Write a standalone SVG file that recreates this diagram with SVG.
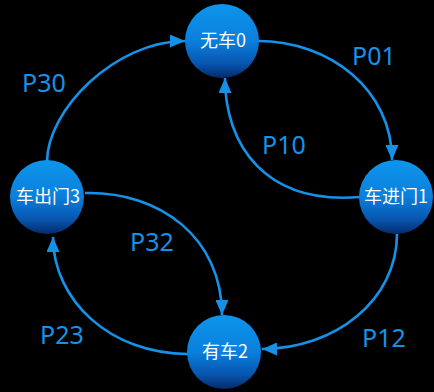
<svg xmlns="http://www.w3.org/2000/svg" width="434" height="392" viewBox="0 0 434 392">
  <defs>
    <linearGradient id="ball" x1="0" y1="0" x2="0" y2="1">
      <stop offset="0" stop-color="#0e95ec"/>
      <stop offset="0.5" stop-color="#0a7fdc"/>
      <stop offset="0.8" stop-color="#0856b0"/>
      <stop offset="1" stop-color="#052a6c"/>
    </linearGradient>
    <marker id="arrow" markerUnits="userSpaceOnUse" markerWidth="15" markerHeight="13" refX="15" refY="6.5" orient="auto">
      <path d="M0,0 L15,6.5 L0,13 z" fill="#1592e8"/>
    </marker>
    <style>
      rect.bg { fill: #000000; }
      circle.state { fill: url(#ball); }
      text.name { font-family: "Noto Sans CJK SC", "Noto Sans", sans-serif; font-size: 18px; fill: #ffffff; text-anchor: middle; }
      .edge { fill: none; stroke: #1592e8; stroke-width: 2.6; marker-end: url(#arrow); }
      text.label { font-family: "Noto Sans", "Open Sans", sans-serif; font-size: 25px; fill: #1592e8; }
    </style>
  </defs>

  <rect class="bg" x="0" y="0" width="434" height="392"/>

  <!-- transitions between states -->
  <g id="connectors">
    <path class="edge" d="M258,41 C330,41 392,90 392,160"/>
    <path class="edge" d="M360,197 C265,205 225,145 225,78"/>
    <path class="edge" d="M397,234 C397,300 335,349 262,349"/>
    <path class="edge" d="M188,354 C110,354 53,300 53,237"/>
    <path class="edge" d="M47,162 C47,110 115,41 185,41"/>
    <path class="edge" d="M85,193 C160,191 222,238 222,315"/>
    <text class="label" x="352" y="65">P01</text>
    <text class="label" x="262" y="154">P10</text>
    <text class="label" x="362" y="347">P12</text>
    <text class="label" x="40" y="344">P23</text>
    <text class="label" x="22" y="92">P30</text>
    <text class="label" x="130" y="251">P32</text>
  </g>

  <!-- states -->
  <g id="state0">
    <circle class="state" cx="222" cy="41" r="37"/>
    <text class="name" x="223" y="47">无车0</text>
  </g>
  <g id="state1">
    <circle class="state" cx="396" cy="197" r="37"/>
    <text class="name" x="396" y="203">车进门1</text>
  </g>
  <g id="state2">
    <circle class="state" cx="224" cy="352" r="37"/>
    <text class="name" x="225" y="358">有车2</text>
  </g>
  <g id="state3">
    <circle class="state" cx="47" cy="197" r="37"/>
    <text class="name" x="48" y="203">车出门3</text>
  </g>
</svg>
